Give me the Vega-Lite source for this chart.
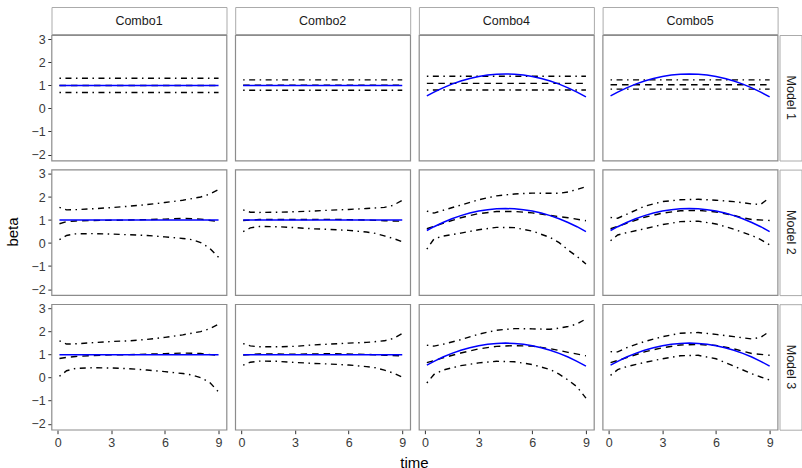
{
  "$schema": "https://vega.github.io/schema/vega-lite/v6.json",
  "padding": {"left": 4.5, "top": 6, "right": 0, "bottom": 0},
  "background": "white",
  "spacing": -2,
  "config": {
    "font": "Liberation Sans",
    "view": {"stroke": "#8c8c8c", "strokeWidth": 1.2},
    "axis": {
      "grid": false, "domain": false,
      "labelFont": "Liberation Sans", "labelFontSize": 12.5, "labelColor": "#3a3a3a",
      "labelPadding": 2.5, "tickColor": "#333333", "tickSize": 3.7, "tickWidth": 1,
      "titleFont": "Liberation Sans", "titleFontSize": 15, "titleFontWeight": "normal",
      "titleColor": "#000000", "titlePadding": 0
    },
    "header": {
      "titleFont": "Liberation Sans", "titleFontSize": 15, "titleFontWeight": "normal",
      "titleColor": "#000000", "titlePadding": 0, "labelPadding": 0
    }
  },
  "datasets": {
    "combos": [{"combo": "Combo1"}, {"combo": "Combo2"}, {"combo": "Combo4"}, {"combo": "Combo5"}],
    "models": [{"model": "Model 1"}, {"model": "Model 2"}, {"model": "Model 3"}],
    "lines": [
      {"combo":"Combo1","model":"Model 1","s":"true","t":0.1,"v":1},
      {"combo":"Combo1","model":"Model 1","s":"true","t":9,"v":1},
      {"combo":"Combo1","model":"Model 1","s":"est","t":0.1,"v":1.0},
      {"combo":"Combo1","model":"Model 1","s":"est","t":9,"v":1.0},
      {"combo":"Combo1","model":"Model 1","s":"hi","t":0.1,"v":1.31},
      {"combo":"Combo1","model":"Model 1","s":"hi","t":9,"v":1.31},
      {"combo":"Combo1","model":"Model 1","s":"lo","t":0.1,"v":0.69},
      {"combo":"Combo1","model":"Model 1","s":"lo","t":9,"v":0.69},

      {"combo":"Combo2","model":"Model 1","s":"true","t":0.1,"v":1},
      {"combo":"Combo2","model":"Model 1","s":"true","t":9,"v":1},
      {"combo":"Combo2","model":"Model 1","s":"est","t":0.1,"v":1.01},
      {"combo":"Combo2","model":"Model 1","s":"est","t":9,"v":1.01},
      {"combo":"Combo2","model":"Model 1","s":"hi","t":0.1,"v":1.24},
      {"combo":"Combo2","model":"Model 1","s":"hi","t":9,"v":1.24},
      {"combo":"Combo2","model":"Model 1","s":"lo","t":0.1,"v":0.79},
      {"combo":"Combo2","model":"Model 1","s":"lo","t":9,"v":0.79},

      {"combo":"Combo4","model":"Model 1","s":"est","t":0.1,"v":1.09},
      {"combo":"Combo4","model":"Model 1","s":"est","t":9,"v":1.09},
      {"combo":"Combo4","model":"Model 1","s":"hi","t":0.1,"v":1.40},
      {"combo":"Combo4","model":"Model 1","s":"hi","t":9,"v":1.40},
      {"combo":"Combo4","model":"Model 1","s":"lo","t":0.1,"v":0.80},
      {"combo":"Combo4","model":"Model 1","s":"lo","t":9,"v":0.80},

      {"combo":"Combo5","model":"Model 1","s":"est","t":0.1,"v":1.03},
      {"combo":"Combo5","model":"Model 1","s":"est","t":9,"v":1.03},
      {"combo":"Combo5","model":"Model 1","s":"hi","t":0.1,"v":1.24},
      {"combo":"Combo5","model":"Model 1","s":"hi","t":9,"v":1.24},
      {"combo":"Combo5","model":"Model 1","s":"lo","t":0.1,"v":0.84},
      {"combo":"Combo5","model":"Model 1","s":"lo","t":9,"v":0.84},

      {"combo":"Combo1","model":"Model 2","s":"true","t":0.1,"v":1},
      {"combo":"Combo1","model":"Model 2","s":"true","t":9,"v":1},
      {"combo":"Combo1","model":"Model 2","s":"hi","t":0.1,"v":1.55},
      {"combo":"Combo1","model":"Model 2","s":"hi","t":0.5,"v":1.44},
      {"combo":"Combo1","model":"Model 2","s":"hi","t":1,"v":1.45},
      {"combo":"Combo1","model":"Model 2","s":"hi","t":2,"v":1.49},
      {"combo":"Combo1","model":"Model 2","s":"hi","t":3,"v":1.54},
      {"combo":"Combo1","model":"Model 2","s":"hi","t":4,"v":1.6},
      {"combo":"Combo1","model":"Model 2","s":"hi","t":5,"v":1.67},
      {"combo":"Combo1","model":"Model 2","s":"hi","t":6,"v":1.76},
      {"combo":"Combo1","model":"Model 2","s":"hi","t":7,"v":1.86},
      {"combo":"Combo1","model":"Model 2","s":"hi","t":8,"v":2.0},
      {"combo":"Combo1","model":"Model 2","s":"hi","t":8.5,"v":2.12},
      {"combo":"Combo1","model":"Model 2","s":"hi","t":9,"v":2.32},
      {"combo":"Combo1","model":"Model 2","s":"lo","t":0.1,"v":0.15},
      {"combo":"Combo1","model":"Model 2","s":"lo","t":0.5,"v":0.33},
      {"combo":"Combo1","model":"Model 2","s":"lo","t":1,"v":0.4},
      {"combo":"Combo1","model":"Model 2","s":"lo","t":2,"v":0.41},
      {"combo":"Combo1","model":"Model 2","s":"lo","t":3,"v":0.39},
      {"combo":"Combo1","model":"Model 2","s":"lo","t":4,"v":0.36},
      {"combo":"Combo1","model":"Model 2","s":"lo","t":5,"v":0.33},
      {"combo":"Combo1","model":"Model 2","s":"lo","t":6,"v":0.27},
      {"combo":"Combo1","model":"Model 2","s":"lo","t":7,"v":0.2},
      {"combo":"Combo1","model":"Model 2","s":"lo","t":7.5,"v":0.15},
      {"combo":"Combo1","model":"Model 2","s":"lo","t":8,"v":0.02},
      {"combo":"Combo1","model":"Model 2","s":"lo","t":8.5,"v":-0.22},
      {"combo":"Combo1","model":"Model 2","s":"lo","t":9,"v":-0.62},
      {"combo":"Combo1","model":"Model 2","s":"est","t":0.1,"v":0.84},
      {"combo":"Combo1","model":"Model 2","s":"est","t":0.5,"v":0.93},
      {"combo":"Combo1","model":"Model 2","s":"est","t":1,"v":0.96},
      {"combo":"Combo1","model":"Model 2","s":"est","t":2,"v":0.98},
      {"combo":"Combo1","model":"Model 2","s":"est","t":3,"v":0.99},
      {"combo":"Combo1","model":"Model 2","s":"est","t":4,"v":1.0},
      {"combo":"Combo1","model":"Model 2","s":"est","t":5,"v":1.02},
      {"combo":"Combo1","model":"Model 2","s":"est","t":6,"v":1.04},
      {"combo":"Combo1","model":"Model 2","s":"est","t":7,"v":1.07},
      {"combo":"Combo1","model":"Model 2","s":"est","t":8,"v":1.04},
      {"combo":"Combo1","model":"Model 2","s":"est","t":9,"v":0.93},

      {"combo":"Combo2","model":"Model 2","s":"true","t":0.1,"v":1},
      {"combo":"Combo2","model":"Model 2","s":"true","t":9,"v":1},
      {"combo":"Combo2","model":"Model 2","s":"hi","t":0.1,"v":1.44},
      {"combo":"Combo2","model":"Model 2","s":"hi","t":0.5,"v":1.34},
      {"combo":"Combo2","model":"Model 2","s":"hi","t":1,"v":1.33},
      {"combo":"Combo2","model":"Model 2","s":"hi","t":2,"v":1.34},
      {"combo":"Combo2","model":"Model 2","s":"hi","t":3,"v":1.36},
      {"combo":"Combo2","model":"Model 2","s":"hi","t":4,"v":1.39},
      {"combo":"Combo2","model":"Model 2","s":"hi","t":5,"v":1.43},
      {"combo":"Combo2","model":"Model 2","s":"hi","t":6,"v":1.46},
      {"combo":"Combo2","model":"Model 2","s":"hi","t":7,"v":1.5},
      {"combo":"Combo2","model":"Model 2","s":"hi","t":8,"v":1.55},
      {"combo":"Combo2","model":"Model 2","s":"hi","t":8.5,"v":1.64},
      {"combo":"Combo2","model":"Model 2","s":"hi","t":9,"v":1.86},
      {"combo":"Combo2","model":"Model 2","s":"lo","t":0.1,"v":0.5},
      {"combo":"Combo2","model":"Model 2","s":"lo","t":0.5,"v":0.66},
      {"combo":"Combo2","model":"Model 2","s":"lo","t":1,"v":0.72},
      {"combo":"Combo2","model":"Model 2","s":"lo","t":2,"v":0.71},
      {"combo":"Combo2","model":"Model 2","s":"lo","t":3,"v":0.67},
      {"combo":"Combo2","model":"Model 2","s":"lo","t":4,"v":0.62},
      {"combo":"Combo2","model":"Model 2","s":"lo","t":5,"v":0.59},
      {"combo":"Combo2","model":"Model 2","s":"lo","t":6,"v":0.55},
      {"combo":"Combo2","model":"Model 2","s":"lo","t":7,"v":0.48},
      {"combo":"Combo2","model":"Model 2","s":"lo","t":7.5,"v":0.42},
      {"combo":"Combo2","model":"Model 2","s":"lo","t":8,"v":0.31},
      {"combo":"Combo2","model":"Model 2","s":"lo","t":8.5,"v":0.2},
      {"combo":"Combo2","model":"Model 2","s":"lo","t":9,"v":0.06},
      {"combo":"Combo2","model":"Model 2","s":"est","t":0.1,"v":0.98},
      {"combo":"Combo2","model":"Model 2","s":"est","t":1,"v":1.02},
      {"combo":"Combo2","model":"Model 2","s":"est","t":3,"v":1.02},
      {"combo":"Combo2","model":"Model 2","s":"est","t":5,"v":1.03},
      {"combo":"Combo2","model":"Model 2","s":"est","t":7,"v":1.0},
      {"combo":"Combo2","model":"Model 2","s":"est","t":8,"v":0.97},
      {"combo":"Combo2","model":"Model 2","s":"est","t":9,"v":0.95},

      {"combo":"Combo4","model":"Model 2","s":"hi","t":0.1,"v":1.39},
      {"combo":"Combo4","model":"Model 2","s":"hi","t":0.5,"v":1.3},
      {"combo":"Combo4","model":"Model 2","s":"hi","t":1,"v":1.42},
      {"combo":"Combo4","model":"Model 2","s":"hi","t":2,"v":1.65},
      {"combo":"Combo4","model":"Model 2","s":"hi","t":3,"v":1.88},
      {"combo":"Combo4","model":"Model 2","s":"hi","t":4,"v":2.05},
      {"combo":"Combo4","model":"Model 2","s":"hi","t":5,"v":2.13},
      {"combo":"Combo4","model":"Model 2","s":"hi","t":6,"v":2.17},
      {"combo":"Combo4","model":"Model 2","s":"hi","t":7,"v":2.16},
      {"combo":"Combo4","model":"Model 2","s":"hi","t":7.5,"v":2.16},
      {"combo":"Combo4","model":"Model 2","s":"hi","t":8,"v":2.22},
      {"combo":"Combo4","model":"Model 2","s":"hi","t":8.5,"v":2.33},
      {"combo":"Combo4","model":"Model 2","s":"hi","t":9,"v":2.45},
      {"combo":"Combo4","model":"Model 2","s":"lo","t":0.1,"v":-0.26},
      {"combo":"Combo4","model":"Model 2","s":"lo","t":0.5,"v":0.18},
      {"combo":"Combo4","model":"Model 2","s":"lo","t":1,"v":0.3},
      {"combo":"Combo4","model":"Model 2","s":"lo","t":2,"v":0.43},
      {"combo":"Combo4","model":"Model 2","s":"lo","t":3,"v":0.58},
      {"combo":"Combo4","model":"Model 2","s":"lo","t":4,"v":0.68},
      {"combo":"Combo4","model":"Model 2","s":"lo","t":5,"v":0.67},
      {"combo":"Combo4","model":"Model 2","s":"lo","t":6,"v":0.52},
      {"combo":"Combo4","model":"Model 2","s":"lo","t":7,"v":0.24},
      {"combo":"Combo4","model":"Model 2","s":"lo","t":7.5,"v":0.02},
      {"combo":"Combo4","model":"Model 2","s":"lo","t":8,"v":-0.3},
      {"combo":"Combo4","model":"Model 2","s":"lo","t":8.5,"v":-0.58},
      {"combo":"Combo4","model":"Model 2","s":"lo","t":9,"v":-0.91},
      {"combo":"Combo4","model":"Model 2","s":"est","t":0.1,"v":0.62},
      {"combo":"Combo4","model":"Model 2","s":"est","t":1,"v":0.86},
      {"combo":"Combo4","model":"Model 2","s":"est","t":2,"v":1.1},
      {"combo":"Combo4","model":"Model 2","s":"est","t":3,"v":1.28},
      {"combo":"Combo4","model":"Model 2","s":"est","t":4,"v":1.37},
      {"combo":"Combo4","model":"Model 2","s":"est","t":5,"v":1.37},
      {"combo":"Combo4","model":"Model 2","s":"est","t":6,"v":1.31},
      {"combo":"Combo4","model":"Model 2","s":"est","t":7,"v":1.2},
      {"combo":"Combo4","model":"Model 2","s":"est","t":8,"v":1.1},
      {"combo":"Combo4","model":"Model 2","s":"est","t":9,"v":0.97},

      {"combo":"Combo5","model":"Model 2","s":"hi","t":0.1,"v":1.11},
      {"combo":"Combo5","model":"Model 2","s":"hi","t":0.5,"v":1.08},
      {"combo":"Combo5","model":"Model 2","s":"hi","t":1,"v":1.25},
      {"combo":"Combo5","model":"Model 2","s":"hi","t":2,"v":1.6},
      {"combo":"Combo5","model":"Model 2","s":"hi","t":3,"v":1.8},
      {"combo":"Combo5","model":"Model 2","s":"hi","t":4,"v":1.88},
      {"combo":"Combo5","model":"Model 2","s":"hi","t":5,"v":1.9},
      {"combo":"Combo5","model":"Model 2","s":"hi","t":6,"v":1.86},
      {"combo":"Combo5","model":"Model 2","s":"hi","t":7,"v":1.8},
      {"combo":"Combo5","model":"Model 2","s":"hi","t":8,"v":1.7},
      {"combo":"Combo5","model":"Model 2","s":"hi","t":8.5,"v":1.68},
      {"combo":"Combo5","model":"Model 2","s":"hi","t":9,"v":1.97},
      {"combo":"Combo5","model":"Model 2","s":"lo","t":0.1,"v":0.1},
      {"combo":"Combo5","model":"Model 2","s":"lo","t":0.5,"v":0.35},
      {"combo":"Combo5","model":"Model 2","s":"lo","t":1,"v":0.45},
      {"combo":"Combo5","model":"Model 2","s":"lo","t":2,"v":0.62},
      {"combo":"Combo5","model":"Model 2","s":"lo","t":3,"v":0.8},
      {"combo":"Combo5","model":"Model 2","s":"lo","t":4,"v":0.93},
      {"combo":"Combo5","model":"Model 2","s":"lo","t":5,"v":0.95},
      {"combo":"Combo5","model":"Model 2","s":"lo","t":6,"v":0.83},
      {"combo":"Combo5","model":"Model 2","s":"lo","t":7,"v":0.6},
      {"combo":"Combo5","model":"Model 2","s":"lo","t":8,"v":0.33},
      {"combo":"Combo5","model":"Model 2","s":"lo","t":8.5,"v":0.15},
      {"combo":"Combo5","model":"Model 2","s":"lo","t":9,"v":-0.08},
      {"combo":"Combo5","model":"Model 2","s":"est","t":0.1,"v":0.62},
      {"combo":"Combo5","model":"Model 2","s":"est","t":1,"v":0.86},
      {"combo":"Combo5","model":"Model 2","s":"est","t":2,"v":1.12},
      {"combo":"Combo5","model":"Model 2","s":"est","t":3,"v":1.3},
      {"combo":"Combo5","model":"Model 2","s":"est","t":4,"v":1.4},
      {"combo":"Combo5","model":"Model 2","s":"est","t":5,"v":1.42},
      {"combo":"Combo5","model":"Model 2","s":"est","t":6,"v":1.35},
      {"combo":"Combo5","model":"Model 2","s":"est","t":7,"v":1.2},
      {"combo":"Combo5","model":"Model 2","s":"est","t":7.5,"v":1.1},
      {"combo":"Combo5","model":"Model 2","s":"est","t":8,"v":1.02},
      {"combo":"Combo5","model":"Model 2","s":"est","t":9,"v":0.98},

      {"combo":"Combo1","model":"Model 3","s":"true","t":0.1,"v":1},
      {"combo":"Combo1","model":"Model 3","s":"true","t":9,"v":1},
      {"combo":"Combo1","model":"Model 3","s":"hi","t":0.1,"v":1.6},
      {"combo":"Combo1","model":"Model 3","s":"hi","t":0.5,"v":1.46},
      {"combo":"Combo1","model":"Model 3","s":"hi","t":1,"v":1.47},
      {"combo":"Combo1","model":"Model 3","s":"hi","t":2,"v":1.52},
      {"combo":"Combo1","model":"Model 3","s":"hi","t":3,"v":1.57},
      {"combo":"Combo1","model":"Model 3","s":"hi","t":4,"v":1.6},
      {"combo":"Combo1","model":"Model 3","s":"hi","t":5,"v":1.66},
      {"combo":"Combo1","model":"Model 3","s":"hi","t":6,"v":1.75},
      {"combo":"Combo1","model":"Model 3","s":"hi","t":7,"v":1.86},
      {"combo":"Combo1","model":"Model 3","s":"hi","t":8,"v":2.0},
      {"combo":"Combo1","model":"Model 3","s":"hi","t":8.5,"v":2.12},
      {"combo":"Combo1","model":"Model 3","s":"hi","t":9,"v":2.32},
      {"combo":"Combo1","model":"Model 3","s":"lo","t":0.1,"v":0.06},
      {"combo":"Combo1","model":"Model 3","s":"lo","t":0.5,"v":0.3},
      {"combo":"Combo1","model":"Model 3","s":"lo","t":1,"v":0.4},
      {"combo":"Combo1","model":"Model 3","s":"lo","t":2,"v":0.43},
      {"combo":"Combo1","model":"Model 3","s":"lo","t":3,"v":0.42},
      {"combo":"Combo1","model":"Model 3","s":"lo","t":4,"v":0.39},
      {"combo":"Combo1","model":"Model 3","s":"lo","t":5,"v":0.33},
      {"combo":"Combo1","model":"Model 3","s":"lo","t":6,"v":0.26},
      {"combo":"Combo1","model":"Model 3","s":"lo","t":7,"v":0.18},
      {"combo":"Combo1","model":"Model 3","s":"lo","t":7.5,"v":0.12},
      {"combo":"Combo1","model":"Model 3","s":"lo","t":8,"v":0.0},
      {"combo":"Combo1","model":"Model 3","s":"lo","t":8.5,"v":-0.2},
      {"combo":"Combo1","model":"Model 3","s":"lo","t":9,"v":-0.62},
      {"combo":"Combo1","model":"Model 3","s":"est","t":0.1,"v":0.83},
      {"combo":"Combo1","model":"Model 3","s":"est","t":0.5,"v":0.88},
      {"combo":"Combo1","model":"Model 3","s":"est","t":1,"v":0.92},
      {"combo":"Combo1","model":"Model 3","s":"est","t":2,"v":0.96},
      {"combo":"Combo1","model":"Model 3","s":"est","t":3,"v":0.99},
      {"combo":"Combo1","model":"Model 3","s":"est","t":4,"v":1.0},
      {"combo":"Combo1","model":"Model 3","s":"est","t":5,"v":1.02},
      {"combo":"Combo1","model":"Model 3","s":"est","t":6,"v":1.04},
      {"combo":"Combo1","model":"Model 3","s":"est","t":7,"v":1.07},
      {"combo":"Combo1","model":"Model 3","s":"est","t":8,"v":1.05},
      {"combo":"Combo1","model":"Model 3","s":"est","t":9,"v":0.96},

      {"combo":"Combo2","model":"Model 3","s":"true","t":0.1,"v":1},
      {"combo":"Combo2","model":"Model 3","s":"true","t":9,"v":1},
      {"combo":"Combo2","model":"Model 3","s":"hi","t":0.1,"v":1.48},
      {"combo":"Combo2","model":"Model 3","s":"hi","t":0.5,"v":1.38},
      {"combo":"Combo2","model":"Model 3","s":"hi","t":1,"v":1.34},
      {"combo":"Combo2","model":"Model 3","s":"hi","t":2,"v":1.34},
      {"combo":"Combo2","model":"Model 3","s":"hi","t":3,"v":1.36},
      {"combo":"Combo2","model":"Model 3","s":"hi","t":4,"v":1.42},
      {"combo":"Combo2","model":"Model 3","s":"hi","t":5,"v":1.46},
      {"combo":"Combo2","model":"Model 3","s":"hi","t":6,"v":1.5},
      {"combo":"Combo2","model":"Model 3","s":"hi","t":7,"v":1.53},
      {"combo":"Combo2","model":"Model 3","s":"hi","t":8,"v":1.6},
      {"combo":"Combo2","model":"Model 3","s":"hi","t":8.5,"v":1.7},
      {"combo":"Combo2","model":"Model 3","s":"hi","t":9,"v":1.92},
      {"combo":"Combo2","model":"Model 3","s":"lo","t":0.1,"v":0.54},
      {"combo":"Combo2","model":"Model 3","s":"lo","t":0.5,"v":0.67},
      {"combo":"Combo2","model":"Model 3","s":"lo","t":1,"v":0.72},
      {"combo":"Combo2","model":"Model 3","s":"lo","t":2,"v":0.71},
      {"combo":"Combo2","model":"Model 3","s":"lo","t":3,"v":0.66},
      {"combo":"Combo2","model":"Model 3","s":"lo","t":4,"v":0.62},
      {"combo":"Combo2","model":"Model 3","s":"lo","t":5,"v":0.59},
      {"combo":"Combo2","model":"Model 3","s":"lo","t":6,"v":0.55},
      {"combo":"Combo2","model":"Model 3","s":"lo","t":7,"v":0.48},
      {"combo":"Combo2","model":"Model 3","s":"lo","t":7.5,"v":0.43},
      {"combo":"Combo2","model":"Model 3","s":"lo","t":8,"v":0.33},
      {"combo":"Combo2","model":"Model 3","s":"lo","t":8.5,"v":0.2},
      {"combo":"Combo2","model":"Model 3","s":"lo","t":9,"v":0.02},
      {"combo":"Combo2","model":"Model 3","s":"est","t":0.1,"v":0.98},
      {"combo":"Combo2","model":"Model 3","s":"est","t":1,"v":1.03},
      {"combo":"Combo2","model":"Model 3","s":"est","t":3,"v":1.02},
      {"combo":"Combo2","model":"Model 3","s":"est","t":5,"v":1.04},
      {"combo":"Combo2","model":"Model 3","s":"est","t":7,"v":1.01},
      {"combo":"Combo2","model":"Model 3","s":"est","t":8,"v":0.97},
      {"combo":"Combo2","model":"Model 3","s":"est","t":9,"v":0.95},

      {"combo":"Combo4","model":"Model 3","s":"hi","t":0.1,"v":1.41},
      {"combo":"Combo4","model":"Model 3","s":"hi","t":0.5,"v":1.37},
      {"combo":"Combo4","model":"Model 3","s":"hi","t":1,"v":1.45},
      {"combo":"Combo4","model":"Model 3","s":"hi","t":2,"v":1.65},
      {"combo":"Combo4","model":"Model 3","s":"hi","t":3,"v":1.89},
      {"combo":"Combo4","model":"Model 3","s":"hi","t":4,"v":2.06},
      {"combo":"Combo4","model":"Model 3","s":"hi","t":5,"v":2.13},
      {"combo":"Combo4","model":"Model 3","s":"hi","t":6,"v":2.12},
      {"combo":"Combo4","model":"Model 3","s":"hi","t":7,"v":2.1},
      {"combo":"Combo4","model":"Model 3","s":"hi","t":7.5,"v":2.15},
      {"combo":"Combo4","model":"Model 3","s":"hi","t":8,"v":2.22},
      {"combo":"Combo4","model":"Model 3","s":"hi","t":8.5,"v":2.33},
      {"combo":"Combo4","model":"Model 3","s":"hi","t":9,"v":2.55},
      {"combo":"Combo4","model":"Model 3","s":"lo","t":0.1,"v":-0.23},
      {"combo":"Combo4","model":"Model 3","s":"lo","t":0.5,"v":0.14},
      {"combo":"Combo4","model":"Model 3","s":"lo","t":1,"v":0.33},
      {"combo":"Combo4","model":"Model 3","s":"lo","t":2,"v":0.52},
      {"combo":"Combo4","model":"Model 3","s":"lo","t":3,"v":0.64},
      {"combo":"Combo4","model":"Model 3","s":"lo","t":4,"v":0.71},
      {"combo":"Combo4","model":"Model 3","s":"lo","t":5,"v":0.69},
      {"combo":"Combo4","model":"Model 3","s":"lo","t":6,"v":0.57},
      {"combo":"Combo4","model":"Model 3","s":"lo","t":7,"v":0.35},
      {"combo":"Combo4","model":"Model 3","s":"lo","t":7.5,"v":0.15},
      {"combo":"Combo4","model":"Model 3","s":"lo","t":8,"v":-0.1},
      {"combo":"Combo4","model":"Model 3","s":"lo","t":8.5,"v":-0.4},
      {"combo":"Combo4","model":"Model 3","s":"lo","t":9,"v":-0.89},
      {"combo":"Combo4","model":"Model 3","s":"est","t":0.1,"v":0.65},
      {"combo":"Combo4","model":"Model 3","s":"est","t":1,"v":0.86},
      {"combo":"Combo4","model":"Model 3","s":"est","t":2,"v":1.07},
      {"combo":"Combo4","model":"Model 3","s":"est","t":3,"v":1.25},
      {"combo":"Combo4","model":"Model 3","s":"est","t":4,"v":1.36},
      {"combo":"Combo4","model":"Model 3","s":"est","t":5,"v":1.39},
      {"combo":"Combo4","model":"Model 3","s":"est","t":6,"v":1.37},
      {"combo":"Combo4","model":"Model 3","s":"est","t":7,"v":1.26},
      {"combo":"Combo4","model":"Model 3","s":"est","t":8,"v":1.1},
      {"combo":"Combo4","model":"Model 3","s":"est","t":9,"v":0.95},

      {"combo":"Combo5","model":"Model 3","s":"hi","t":0.1,"v":1.13},
      {"combo":"Combo5","model":"Model 3","s":"hi","t":0.5,"v":1.12},
      {"combo":"Combo5","model":"Model 3","s":"hi","t":1,"v":1.3},
      {"combo":"Combo5","model":"Model 3","s":"hi","t":2,"v":1.57},
      {"combo":"Combo5","model":"Model 3","s":"hi","t":3,"v":1.78},
      {"combo":"Combo5","model":"Model 3","s":"hi","t":4,"v":1.93},
      {"combo":"Combo5","model":"Model 3","s":"hi","t":5,"v":1.96},
      {"combo":"Combo5","model":"Model 3","s":"hi","t":6,"v":1.88},
      {"combo":"Combo5","model":"Model 3","s":"hi","t":7,"v":1.78},
      {"combo":"Combo5","model":"Model 3","s":"hi","t":8,"v":1.68},
      {"combo":"Combo5","model":"Model 3","s":"hi","t":8.5,"v":1.75},
      {"combo":"Combo5","model":"Model 3","s":"hi","t":9,"v":2.01},
      {"combo":"Combo5","model":"Model 3","s":"lo","t":0.1,"v":0.1},
      {"combo":"Combo5","model":"Model 3","s":"lo","t":0.5,"v":0.35},
      {"combo":"Combo5","model":"Model 3","s":"lo","t":1,"v":0.48},
      {"combo":"Combo5","model":"Model 3","s":"lo","t":2,"v":0.66},
      {"combo":"Combo5","model":"Model 3","s":"lo","t":3,"v":0.82},
      {"combo":"Combo5","model":"Model 3","s":"lo","t":4,"v":0.95},
      {"combo":"Combo5","model":"Model 3","s":"lo","t":5,"v":0.97},
      {"combo":"Combo5","model":"Model 3","s":"lo","t":6,"v":0.82},
      {"combo":"Combo5","model":"Model 3","s":"lo","t":7,"v":0.5},
      {"combo":"Combo5","model":"Model 3","s":"lo","t":8,"v":0.17},
      {"combo":"Combo5","model":"Model 3","s":"lo","t":8.5,"v":0.03},
      {"combo":"Combo5","model":"Model 3","s":"lo","t":9,"v":-0.1},
      {"combo":"Combo5","model":"Model 3","s":"est","t":0.1,"v":0.65},
      {"combo":"Combo5","model":"Model 3","s":"est","t":1,"v":0.87},
      {"combo":"Combo5","model":"Model 3","s":"est","t":2,"v":1.12},
      {"combo":"Combo5","model":"Model 3","s":"est","t":3,"v":1.3},
      {"combo":"Combo5","model":"Model 3","s":"est","t":4,"v":1.42},
      {"combo":"Combo5","model":"Model 3","s":"est","t":5,"v":1.44},
      {"combo":"Combo5","model":"Model 3","s":"est","t":6,"v":1.4},
      {"combo":"Combo5","model":"Model 3","s":"est","t":7,"v":1.25},
      {"combo":"Combo5","model":"Model 3","s":"est","t":8,"v":1.05},
      {"combo":"Combo5","model":"Model 3","s":"est","t":9,"v":0.97},

      {"combo":"Combo4","model":"Model 1","s":"true","t":0.1,"v":0.544},
      {"combo":"Combo4","model":"Model 1","s":"true","t":0.5,"v":0.710},
      {"combo":"Combo4","model":"Model 1","s":"true","t":1,"v":0.895},
      {"combo":"Combo4","model":"Model 1","s":"true","t":1.5,"v":1.056},
      {"combo":"Combo4","model":"Model 1","s":"true","t":2,"v":1.191},
      {"combo":"Combo4","model":"Model 1","s":"true","t":2.5,"v":1.302},
      {"combo":"Combo4","model":"Model 1","s":"true","t":3,"v":1.389},
      {"combo":"Combo4","model":"Model 1","s":"true","t":3.5,"v":1.451},
      {"combo":"Combo4","model":"Model 1","s":"true","t":4,"v":1.488},
      {"combo":"Combo4","model":"Model 1","s":"true","t":4.5,"v":1.5},
      {"combo":"Combo4","model":"Model 1","s":"true","t":5,"v":1.488},
      {"combo":"Combo4","model":"Model 1","s":"true","t":5.5,"v":1.451},
      {"combo":"Combo4","model":"Model 1","s":"true","t":6,"v":1.389},
      {"combo":"Combo4","model":"Model 1","s":"true","t":6.5,"v":1.302},
      {"combo":"Combo4","model":"Model 1","s":"true","t":7,"v":1.191},
      {"combo":"Combo4","model":"Model 1","s":"true","t":7.5,"v":1.056},
      {"combo":"Combo4","model":"Model 1","s":"true","t":8,"v":0.895},
      {"combo":"Combo4","model":"Model 1","s":"true","t":8.5,"v":0.710},
      {"combo":"Combo4","model":"Model 1","s":"true","t":9,"v":0.5},

      {"combo":"Combo5","model":"Model 1","s":"true","t":0.1,"v":0.544},
      {"combo":"Combo5","model":"Model 1","s":"true","t":0.5,"v":0.710},
      {"combo":"Combo5","model":"Model 1","s":"true","t":1,"v":0.895},
      {"combo":"Combo5","model":"Model 1","s":"true","t":1.5,"v":1.056},
      {"combo":"Combo5","model":"Model 1","s":"true","t":2,"v":1.191},
      {"combo":"Combo5","model":"Model 1","s":"true","t":2.5,"v":1.302},
      {"combo":"Combo5","model":"Model 1","s":"true","t":3,"v":1.389},
      {"combo":"Combo5","model":"Model 1","s":"true","t":3.5,"v":1.451},
      {"combo":"Combo5","model":"Model 1","s":"true","t":4,"v":1.488},
      {"combo":"Combo5","model":"Model 1","s":"true","t":4.5,"v":1.5},
      {"combo":"Combo5","model":"Model 1","s":"true","t":5,"v":1.488},
      {"combo":"Combo5","model":"Model 1","s":"true","t":5.5,"v":1.451},
      {"combo":"Combo5","model":"Model 1","s":"true","t":6,"v":1.389},
      {"combo":"Combo5","model":"Model 1","s":"true","t":6.5,"v":1.302},
      {"combo":"Combo5","model":"Model 1","s":"true","t":7,"v":1.191},
      {"combo":"Combo5","model":"Model 1","s":"true","t":7.5,"v":1.056},
      {"combo":"Combo5","model":"Model 1","s":"true","t":8,"v":0.895},
      {"combo":"Combo5","model":"Model 1","s":"true","t":8.5,"v":0.710},
      {"combo":"Combo5","model":"Model 1","s":"true","t":9,"v":0.5},

      {"combo":"Combo4","model":"Model 2","s":"true","t":0.1,"v":0.544},
      {"combo":"Combo4","model":"Model 2","s":"true","t":0.5,"v":0.710},
      {"combo":"Combo4","model":"Model 2","s":"true","t":1,"v":0.895},
      {"combo":"Combo4","model":"Model 2","s":"true","t":1.5,"v":1.056},
      {"combo":"Combo4","model":"Model 2","s":"true","t":2,"v":1.191},
      {"combo":"Combo4","model":"Model 2","s":"true","t":2.5,"v":1.302},
      {"combo":"Combo4","model":"Model 2","s":"true","t":3,"v":1.389},
      {"combo":"Combo4","model":"Model 2","s":"true","t":3.5,"v":1.451},
      {"combo":"Combo4","model":"Model 2","s":"true","t":4,"v":1.488},
      {"combo":"Combo4","model":"Model 2","s":"true","t":4.5,"v":1.5},
      {"combo":"Combo4","model":"Model 2","s":"true","t":5,"v":1.488},
      {"combo":"Combo4","model":"Model 2","s":"true","t":5.5,"v":1.451},
      {"combo":"Combo4","model":"Model 2","s":"true","t":6,"v":1.389},
      {"combo":"Combo4","model":"Model 2","s":"true","t":6.5,"v":1.302},
      {"combo":"Combo4","model":"Model 2","s":"true","t":7,"v":1.191},
      {"combo":"Combo4","model":"Model 2","s":"true","t":7.5,"v":1.056},
      {"combo":"Combo4","model":"Model 2","s":"true","t":8,"v":0.895},
      {"combo":"Combo4","model":"Model 2","s":"true","t":8.5,"v":0.710},
      {"combo":"Combo4","model":"Model 2","s":"true","t":9,"v":0.5},

      {"combo":"Combo5","model":"Model 2","s":"true","t":0.1,"v":0.544},
      {"combo":"Combo5","model":"Model 2","s":"true","t":0.5,"v":0.710},
      {"combo":"Combo5","model":"Model 2","s":"true","t":1,"v":0.895},
      {"combo":"Combo5","model":"Model 2","s":"true","t":1.5,"v":1.056},
      {"combo":"Combo5","model":"Model 2","s":"true","t":2,"v":1.191},
      {"combo":"Combo5","model":"Model 2","s":"true","t":2.5,"v":1.302},
      {"combo":"Combo5","model":"Model 2","s":"true","t":3,"v":1.389},
      {"combo":"Combo5","model":"Model 2","s":"true","t":3.5,"v":1.451},
      {"combo":"Combo5","model":"Model 2","s":"true","t":4,"v":1.488},
      {"combo":"Combo5","model":"Model 2","s":"true","t":4.5,"v":1.5},
      {"combo":"Combo5","model":"Model 2","s":"true","t":5,"v":1.488},
      {"combo":"Combo5","model":"Model 2","s":"true","t":5.5,"v":1.451},
      {"combo":"Combo5","model":"Model 2","s":"true","t":6,"v":1.389},
      {"combo":"Combo5","model":"Model 2","s":"true","t":6.5,"v":1.302},
      {"combo":"Combo5","model":"Model 2","s":"true","t":7,"v":1.191},
      {"combo":"Combo5","model":"Model 2","s":"true","t":7.5,"v":1.056},
      {"combo":"Combo5","model":"Model 2","s":"true","t":8,"v":0.895},
      {"combo":"Combo5","model":"Model 2","s":"true","t":8.5,"v":0.710},
      {"combo":"Combo5","model":"Model 2","s":"true","t":9,"v":0.5},

      {"combo":"Combo4","model":"Model 3","s":"true","t":0.1,"v":0.544},
      {"combo":"Combo4","model":"Model 3","s":"true","t":0.5,"v":0.710},
      {"combo":"Combo4","model":"Model 3","s":"true","t":1,"v":0.895},
      {"combo":"Combo4","model":"Model 3","s":"true","t":1.5,"v":1.056},
      {"combo":"Combo4","model":"Model 3","s":"true","t":2,"v":1.191},
      {"combo":"Combo4","model":"Model 3","s":"true","t":2.5,"v":1.302},
      {"combo":"Combo4","model":"Model 3","s":"true","t":3,"v":1.389},
      {"combo":"Combo4","model":"Model 3","s":"true","t":3.5,"v":1.451},
      {"combo":"Combo4","model":"Model 3","s":"true","t":4,"v":1.488},
      {"combo":"Combo4","model":"Model 3","s":"true","t":4.5,"v":1.5},
      {"combo":"Combo4","model":"Model 3","s":"true","t":5,"v":1.488},
      {"combo":"Combo4","model":"Model 3","s":"true","t":5.5,"v":1.451},
      {"combo":"Combo4","model":"Model 3","s":"true","t":6,"v":1.389},
      {"combo":"Combo4","model":"Model 3","s":"true","t":6.5,"v":1.302},
      {"combo":"Combo4","model":"Model 3","s":"true","t":7,"v":1.191},
      {"combo":"Combo4","model":"Model 3","s":"true","t":7.5,"v":1.056},
      {"combo":"Combo4","model":"Model 3","s":"true","t":8,"v":0.895},
      {"combo":"Combo4","model":"Model 3","s":"true","t":8.5,"v":0.710},
      {"combo":"Combo4","model":"Model 3","s":"true","t":9,"v":0.5},

      {"combo":"Combo5","model":"Model 3","s":"true","t":0.1,"v":0.544},
      {"combo":"Combo5","model":"Model 3","s":"true","t":0.5,"v":0.710},
      {"combo":"Combo5","model":"Model 3","s":"true","t":1,"v":0.895},
      {"combo":"Combo5","model":"Model 3","s":"true","t":1.5,"v":1.056},
      {"combo":"Combo5","model":"Model 3","s":"true","t":2,"v":1.191},
      {"combo":"Combo5","model":"Model 3","s":"true","t":2.5,"v":1.302},
      {"combo":"Combo5","model":"Model 3","s":"true","t":3,"v":1.389},
      {"combo":"Combo5","model":"Model 3","s":"true","t":3.5,"v":1.451},
      {"combo":"Combo5","model":"Model 3","s":"true","t":4,"v":1.488},
      {"combo":"Combo5","model":"Model 3","s":"true","t":4.5,"v":1.5},
      {"combo":"Combo5","model":"Model 3","s":"true","t":5,"v":1.488},
      {"combo":"Combo5","model":"Model 3","s":"true","t":5.5,"v":1.451},
      {"combo":"Combo5","model":"Model 3","s":"true","t":6,"v":1.389},
      {"combo":"Combo5","model":"Model 3","s":"true","t":6.5,"v":1.302},
      {"combo":"Combo5","model":"Model 3","s":"true","t":7,"v":1.191},
      {"combo":"Combo5","model":"Model 3","s":"true","t":7.5,"v":1.056},
      {"combo":"Combo5","model":"Model 3","s":"true","t":8,"v":0.895},
      {"combo":"Combo5","model":"Model 3","s":"true","t":8.5,"v":0.710},
      {"combo":"Combo5","model":"Model 3","s":"true","t":9,"v":0.5}
    ]
  },
  "vconcat": [
    {
      "data": {"name": "combos"},
      "facet": {"column": {"field": "combo", "type": "nominal", "header": null}},
      "spacing": 8.7,
      "bounds": "flush",
      "spec": {
        "width": 175,
        "height": 27,
        "view": {"stroke": "#ababab", "strokeWidth": 1},
        "mark": {"type": "text", "fontSize": 12.5, "font": "Liberation Sans", "color": "#1a1a1a"},
        "encoding": {
          "text": {"field": "combo", "type": "nominal"},
          "y": {
            "datum": 0.5, "type": "quantitative",
            "scale": {"domain": [0, 1]},
            "axis": {"values": [0.5], "labelExpr": "'−2'", "labelColor": "transparent", "tickColor": "transparent", "title": "b", "titleColor": "transparent", "titlePadding": 0}
          }
        }
      }
    },
    {
      "spacing": 0,
      "hconcat": [
        {
          "data": {"name": "lines"},
          "facet": {
            "row": {"field": "model", "type": "nominal", "header": {"labels": false, "labelOrient": "left", "labelPadding": 0, "title": "beta", "titleOrient": "left", "titleFontWeight": "normal", "titlePadding": 0}},
            "column": {"field": "combo", "type": "nominal", "header": {"labels": false, "labelOrient": "bottom", "labelPadding": 0, "title": "time", "titleOrient": "bottom", "titleFontWeight": "normal", "titlePadding": -3}}
          },
          "spacing": {"row": 8.6, "column": 8.7},
          "bounds": "flush",
          "spec": {
            "width": 175,
            "height": 125.5,
            "encoding": {
              "x": {"field": "t", "type": "quantitative", "scale": {"domain": [-0.345, 9.445], "nice": false, "zero": false}, "axis": {"values": [0, 3, 6, 9], "title": null}},
              "y": {"field": "v", "type": "quantitative", "scale": {"domain": [-2.26, 3.19], "nice": false, "zero": false}, "axis": {"values": [-2, -1, 0, 1, 2, 3], "title": null}}
            },
            "layer": [
              {
                "transform": [{"filter": "datum.s !== 'true'"}],
                "mark": {"type": "line", "color": "#000000", "strokeWidth": 1.4},
                "encoding": {
                  "detail": {"field": "s", "type": "nominal"},
                  "strokeDash": {"field": "s", "type": "nominal", "scale": {"domain": ["est", "hi", "lo"], "range": [[6.5, 5], [1.5, 4.5, 6, 4.5], [1.5, 4.5, 6, 4.5]]}, "legend": null}
                }
              },
              {
                "transform": [{"filter": "datum.s === 'true'"}],
                "mark": {"type": "line", "color": "#0000ff", "strokeWidth": 1.5}
              }
            ]
          }
        },
        {
          "data": {"name": "models"},
          "facet": {"row": {"field": "model", "type": "nominal", "header": null}},
          "spacing": 8.6,
          "bounds": "flush",
          "spec": {
            "width": 22,
            "height": 125.5,
            "view": {"stroke": "#ababab", "strokeWidth": 1},
            "mark": {"type": "text", "angle": 90, "fontSize": 12.5, "font": "Liberation Sans", "color": "#1a1a1a"},
            "encoding": {"text": {"field": "model", "type": "nominal"}}
          }
        }
      ]
    }
  ]
}
